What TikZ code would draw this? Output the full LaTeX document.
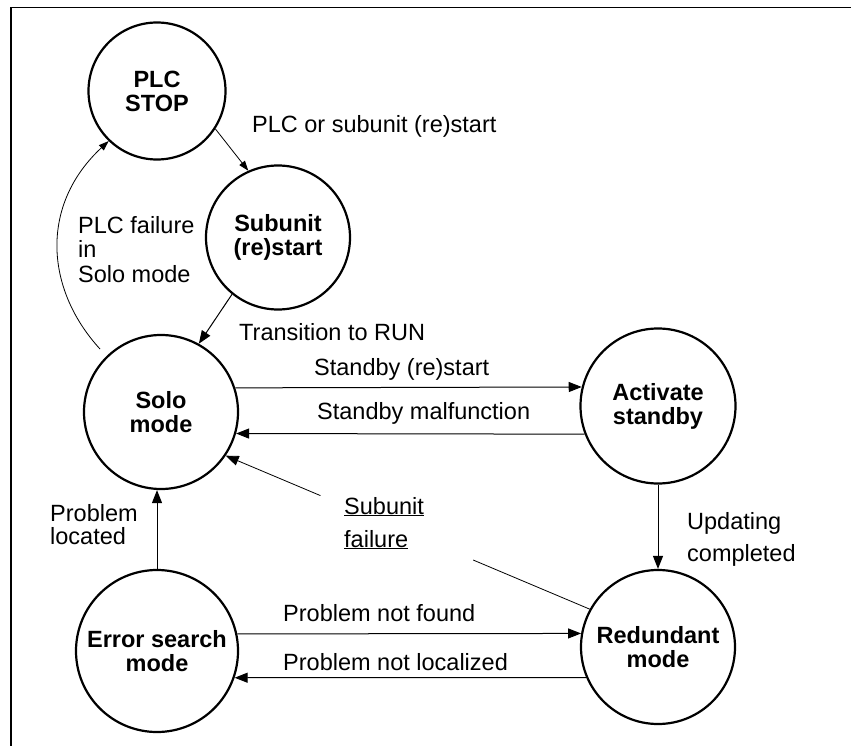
\documentclass[tikz,border=0pt]{standalone}
\usepackage{fontspec}
\setmainfont{Liberation Sans}
\usetikzlibrary{arrows.meta,calc}
\begin{document}
\begin{tikzpicture}[x=1pt,y=-1pt,
  state/.style={circle, draw, line width=2.2pt, inner sep=0pt, align=center,
    font=\bfseries\fontsize{23.5}{24}\selectfont},
  lbl/.style={inner sep=0pt, anchor=base west, align=left,
    font=\fontsize{23.5}{24.5}\selectfont},
  conn/.style={line width=1pt, -{Triangle[length=13pt,width=10pt]}},
  thinconn/.style={line width=0.8pt, -{Triangle[length=10pt,width=7pt]}},
  plainline/.style={line width=0.8pt}
]
\useasboundingbox (0,0) rectangle (851,746);
% frame edges
\draw[line width=1.5pt] (11,746) -- (11,7.5) -- (851,7.5);

% states
\node[state, minimum size=137pt] (plc)  at (157,91)    {PLC\\STOP};
\node[state, minimum size=144pt] (sub)  at (278,237.5) {Subunit\\(re)start};
\node[state, minimum size=154pt] (solo) at (161,412)   {Solo\\mode};
\node[state, minimum size=162pt] (err)  at (157,651)   {Error search\\mode};
\node[state, minimum size=155pt] (act)  at (658,406)   {Activate\\standby};
\node[state, minimum size=154pt] (red)  at (658,647)   {Redundant\\mode};

% transitions
\draw[thinconn] (plc.-33) -- (sub.114);
\draw[conn] (sub.231) -- (solo.61);
\draw[thinconn] ($(solo)+(-61,-63)$) .. controls +(-55,-60) and +(-69,64) .. (plc.226);
\draw[conn] (solo.18) -- (act.166.7);
\draw[conn] (act.201) -- (solo.-16.5);
\draw[conn] (act.south) -- (red.north);
\draw[conn] (err.north) -- (err.north |- solo.south);
\draw[conn] (err.12) -- (red.170.3);
\draw[conn] (red.203.6) -- (err.-19.35);

% subunit failure: line broken around its label
\coordinate (sfa) at ($(red.151.5)!0.32!(solo.-34)$);
\coordinate (sfb) at ($(red.151.5)!0.74!(solo.-34)$);
\draw[plainline] (red.151.5) -- (sfa);
\draw[conn, line width=0.8pt] (sfb) -- (solo.-34);

% labels (multi-line ones are placed by the baseline of their last line)
\node[lbl] (lplc) at (252,133) {PLC or subunit (re)start};
\node[lbl] (lfail) at (78,282) {PLC failure\\in\\Solo mode};
\node[lbl] (lrun) at (239,340) {Transition to RUN};
\node[lbl] (lsbr) at (314,375) {Standby (re)start};
\node[lbl] (lsbm) at (317,419) {Standby malfunction};
\node[lbl, font=\fontsize{23.5}{33}\selectfont] (lsub) at (344,547) {\underline{Subunit}\\\underline{failure}};
\node[lbl, font=\fontsize{23.5}{32}\selectfont] (lupd) at (687,561) {Updating\\completed};
\node[lbl, font=\fontsize{23.5}{23}\selectfont] (lloc) at (50,544) {Problem\\located};
\node[lbl] (lnf) at (283,621) {Problem not found};
\node[lbl] (lnl) at (283,670) {Problem not localized};
\end{tikzpicture}
\end{document}
